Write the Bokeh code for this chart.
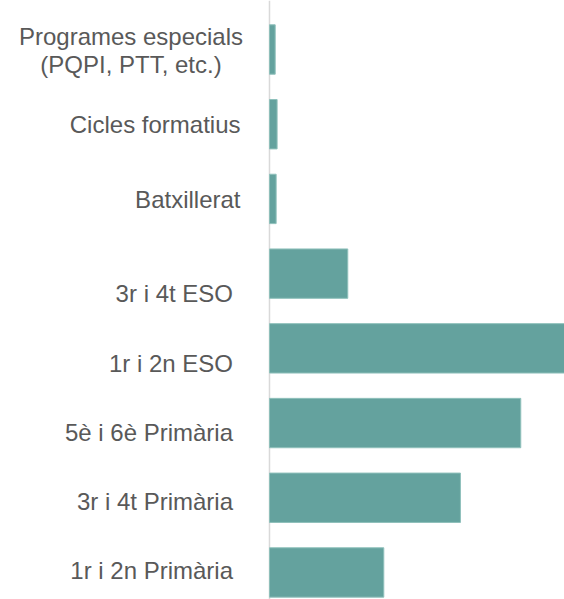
from bokeh.plotting import figure
from bokeh.models import ColumnDataSource, Range1d, Span
from bokeh.core.properties import value
from bokeh.embed import file_html
from bokeh.resources import INLINE

# ---- data (top to bottom) ----
categories = [
    "Programes especials\n(PQPI, PTT, etc.)",
    "Cicles formatius",
    "Batxillerat",
    "3r i 4t ESO",
    "1r i 2n ESO",
    "5è i 6è Primària",
    "3r i 4t Primària",
    "1r i 2n Primària",
]
values = [0.6, 0.8, 0.7, 8.24, 31.1, 26.45, 20.1, 12.03]

# ---- layout tweaks (pixel offsets of the labels) ----
label_dy = [1, 0, 1, 19.5, 15, 9, 4, -2]

ypos = list(range(len(categories)))

p = figure(
    width=564, height=599,
    x_range=Range1d(-28.316, 31.053),
    y_range=Range1d(7.3617, -0.6559),
    output_backend="svg", toolbar_location=None,
    min_border=0, min_border_left=0, min_border_right=0,
    min_border_top=0, min_border_bottom=0,
)
p.axis.visible = False
p.grid.visible = False
p.outline_line_color = None
p.background_fill_color = "white"
p.border_fill_color = "white"

axis_line = Span(location=0, dimension="height", line_color="#d9d9d9",
                 line_width=1.5, level="underlay")
p.add_layout(axis_line)

src = ColumnDataSource(dict(y=ypos, v=values, cat=categories, dy=label_dy))
p.hbar(y="y", left=0, right="v", height=0.661, source=src,
       fill_color="#64a29e", line_color="#8fc0bb", line_width=1)

FONT = value("Liberation Sans")
COLOR = "#595959"
SIZE = "24px"

s1 = ColumnDataSource(dict(y=ypos[:1], cat=categories[:1], dy=label_dy[:1]))
s2 = ColumnDataSource(dict(y=ypos[1:3], cat=categories[1:3], dy=label_dy[1:3]))
s3 = ColumnDataSource(dict(y=ypos[3:], cat=categories[3:], dy=label_dy[3:]))

p.text(x=0, y="y", text="cat", source=s1, x_offset=-138.5, y_offset="dy",
       text_align="center", text_baseline="middle", text_font=FONT,
       text_font_size=SIZE, text_color=COLOR, text_line_height=1.07)
p.text(x=0, y="y", text="cat", source=s2, x_offset=-29, y_offset="dy",
       text_align="right", text_baseline="middle", text_font=FONT,
       text_font_size=SIZE, text_color=COLOR)
p.text(x=0, y="y", text="cat", source=s3, x_offset=-36.5, y_offset="dy",
       text_align="right", text_baseline="middle", text_font=FONT,
       text_font_size=SIZE, text_color=COLOR)

open("out.html", "w").write(file_html(p, INLINE))
